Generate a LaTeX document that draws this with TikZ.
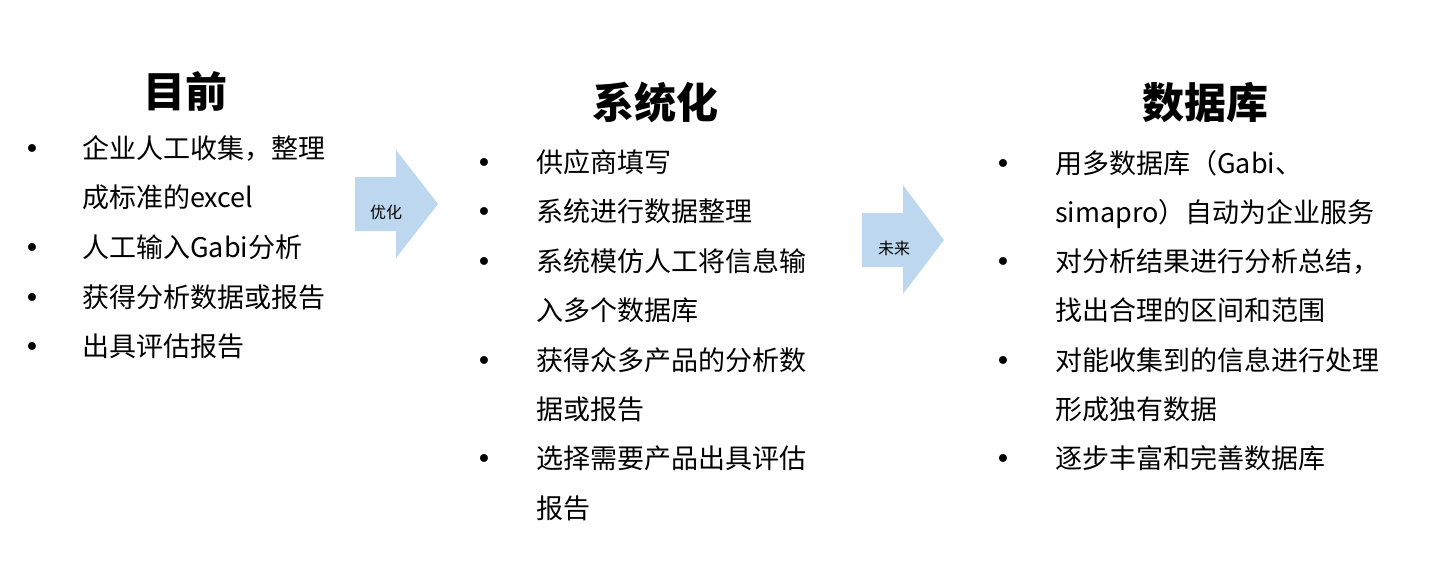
\documentclass[tikz,border=0pt]{standalone}
\usepackage{fontspec}
\setmainfont{Noto Sans CJK SC}
\newfontfamily\bulletfont{DejaVu Sans}
\definecolor{arrowblue}{RGB}{189,215,238}
\tikzset{
  body/.style={anchor=base west,inner sep=0pt,font=\fontsize{27}{27}\selectfont},
  dot/.style={anchor=base,inner sep=0pt,font=\bulletfont\fontsize{27}{27}\selectfont},
  title/.style={anchor=base,inner sep=0pt,font=\fontsize{42}{42}\selectfont\bfseries},
  arrowlabel/.style={anchor=base,inner sep=0pt,font=\fontsize{16}{16}\selectfont},
  fatarrow/.style={fill=arrowblue}
}
\begin{document}
\begin{tikzpicture}[x=1pt,y=-1pt]
\useasboundingbox (0,0) rectangle (1435,578);
% column 1
\node[title] (t1) at (185,107) {目前};
\node[dot] (b11) at (32,158) {•};
\node[body] (l11) at (82,158) {企业人工收集，整理};
\node[body] (l12) at (82,207) {成标准的excel};
\node[dot] (b12) at (32,257) {•};
\node[body] (l13) at (82,257) {人工输入Gabi分析};
\node[dot] (b13) at (32,307) {•};
\node[body] (l14) at (82,307) {获得分析数据或报告};
\node[dot] (b14) at (32,356) {•};
\node[body] (l15) at (82,356) {出具评估报告};
% arrow 1
\fill[fatarrow] (355,177) -- (396,177) -- (396,150) -- (438,204) -- (396,258) -- (396,231) -- (355,231) -- cycle;
\node[arrowlabel] (a1) at (386,218) {优化};
% column 2
\node[title] (t2) at (655,118) {系统化};
\node[dot] (b21) at (484,172) {•};
\node[body] (l21) at (536,172) {供应商填写};
\node[dot] (b22) at (484,221) {•};
\node[body] (l22) at (536,221) {系统进行数据整理};
\node[dot] (b23) at (484,271) {•};
\node[body] (l23) at (536,271) {系统模仿人工将信息输};
\node[body] (l24) at (536,320) {入多个数据库};
\node[dot] (b24) at (484,370) {•};
\node[body] (l25) at (536,370) {获得众多产品的分析数};
\node[body] (l26) at (536,419) {据或报告};
\node[dot] (b25) at (484,468) {•};
\node[body] (l27) at (536,468) {选择需要产品出具评估};
\node[body] (l28) at (536,518) {报告};
% arrow 2
\fill[fatarrow] (862,213) -- (903,213) -- (903,185) -- (944,240) -- (903,294) -- (903,267) -- (862,267) -- cycle;
\node[arrowlabel] (a2) at (894,254) {未来};
% column 3
\node[title] (t3) at (1205,118) {数据库};
\node[dot] (b31) at (1003,173) {•};
\node[body] (l31) at (1055,173) {用多数据库（Gabi、};
\node[body] (l32) at (1055,222) {simapro）自动为企业服务};
\node[dot] (b32) at (1003,271) {•};
\node[body] (l33) at (1055,271) {对分析结果进行分析总结，};
\node[body] (l34) at (1055,320) {找出合理的区间和范围};
\node[dot] (b33) at (1003,370) {•};
\node[body] (l35) at (1055,370) {对能收集到的信息进行处理};
\node[body] (l36) at (1055,419) {形成独有数据};
\node[dot] (b34) at (1003,468) {•};
\node[body] (l37) at (1055,468) {逐步丰富和完善数据库};
\end{tikzpicture}
\end{document}
